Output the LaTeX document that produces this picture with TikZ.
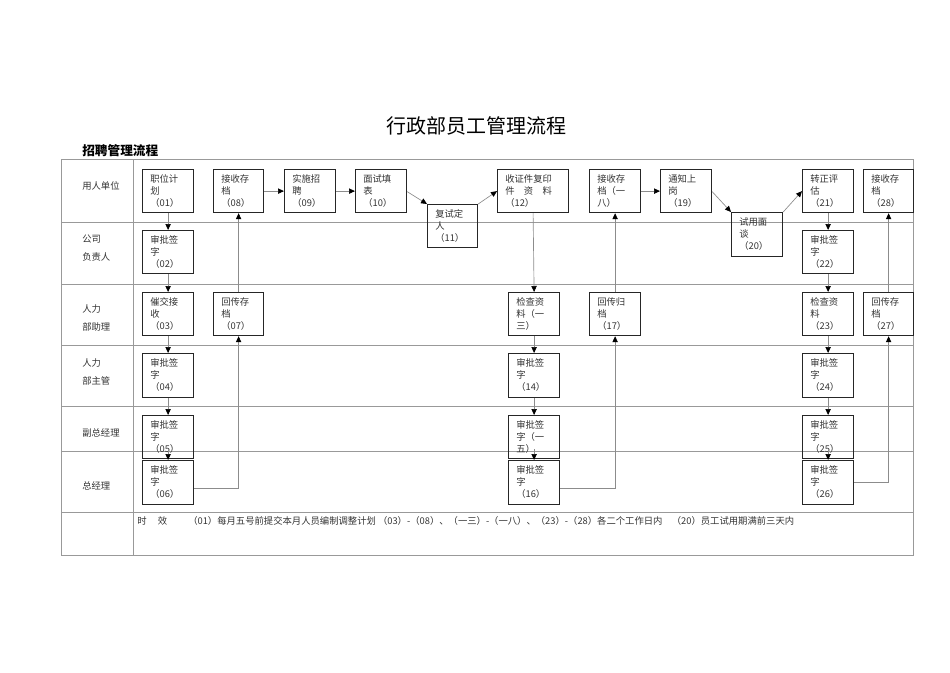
\documentclass[tikz,border=0pt]{standalone}
\usepackage{fontspec}
\newfontfamily\cjk{Noto Sans CJK SC}
\usetikzlibrary{arrows.meta}
\begin{document}
\begin{tikzpicture}[x=0.75pt,y=-0.75pt,
  grid/.style={draw=black!40,line width=0.5pt},
  bx/.style={draw=black!85,line width=0.9pt,anchor=north west,inner sep=0pt},
  btxt/.style={anchor=north west,align=left,inner sep=0pt,font=\cjk\fontsize{7}{9}\selectfont,text=black!80},
  lane/.style={anchor=west,align=left,inner sep=0pt,font=\cjk\fontsize{7}{13}\selectfont,text=black!80},
  conn/.style={draw=black!45,line width=0.5pt},
  arr/.style={conn,-{Triangle[length=4.5pt,width=4pt,fill=black,color=black]}}]
\useasboundingbox (0,0) rectangle (950,672);
\newcommand\mybox[6]{%
  \node[bx,minimum width={(#4-#2)*0.75pt},minimum height={(#5-#3)*0.75pt}] (#1) at (#2,#3) {};
  \node[btxt] at (#2+8,#3+5) {#6};}
% title
\node[font=\cjk\fontsize{15}{15}\selectfont] (title) at (476,126) {行政部员工管理流程};
\node[anchor=west,font=\cjk\bfseries\fontsize{9.5}{10}\selectfont,inner sep=0pt] (sub) at (82,151) {招聘管理流程};
% grid
\draw[grid] (61,159) rectangle (913,555);
\draw[grid] (133,159) -- (133,555);
\foreach \yy in {222,284,345,406,451,512} \draw[grid] (61,\yy) -- (913,\yy);
% lanes
\node[lane] (l1) at (82,186) {用人单位};
\node[lane] (l2) at (82,248) {公司\\负责人};
\node[lane] (l3) at (82,318) {人力\\部助理};
\node[lane] (l4) at (82,372) {人力\\部主管};
\node[lane] (l5) at (82,433) {副总经理};
\node[lane] (l6) at (82,486) {总经理};
% boxes row 1
\mybox{n01}{142}{169}{193}{212}{职位计\\划\\（01）}
\mybox{n08}{213}{169}{263}{212}{接收存\\档\\（08）}
\mybox{n09}{284}{169}{335}{212}{实施招\\聘\\（09）}
\mybox{n10}{355}{169}{406}{212}{面试填\\表\\（10）}
\mybox{n11}{427}{204}{477}{247}{复试定\\人\\（11）}
\mybox{n12}{497}{169}{568}{212}{收证件复印\\件　资　料\\（12）}
\mybox{n18}{589}{169}{640}{212}{接收存\\档（一\\八）}
\mybox{n19}{660}{169}{711}{212}{通知上\\岗\\（19）}
\mybox{n20}{731}{212}{782}{256}{试用面\\谈\\（20）}
\mybox{n21}{802}{169}{853}{212}{转正评\\估\\（21）}
\mybox{n28}{863}{169}{913}{212}{接收存\\档\\（28）}
% row 2
\mybox{n02}{142}{230}{193}{273}{审批签\\字\\（02）}
\mybox{n22}{802}{230}{853}{273}{审批签\\字\\（22）}
% row 3
\mybox{n03}{142}{292}{193}{335}{催交接\\收\\（03）}
\mybox{n07}{213}{292}{263}{335}{回传存\\档\\（07）}
\mybox{n13}{508}{292}{559}{335}{检查资\\料（一\\三）}
\mybox{n17}{589}{292}{640}{335}{回传归\\档\\（17）}
\mybox{n23}{802}{292}{853}{335}{检查资\\料\\（23）}
\mybox{n27}{863}{292}{913}{335}{回传存\\档\\（27）}
% rows 4-6
\mybox{n04}{142}{353}{193}{397}{审批签\\字\\（04）}
\mybox{n05}{142}{415}{193}{458}{审批签\\字\\（05）}
\mybox{n06}{142}{460}{193}{504}{审批签\\字\\（06）}
\mybox{n14}{508}{353}{559}{397}{审批签\\字\\（14）}
\mybox{n15}{508}{415}{559}{458}{审批签\\字（一\\五）}
\mybox{n16}{508}{460}{559}{504}{审批签\\字\\（16）}
\mybox{n24}{802}{353}{853}{397}{审批签\\字\\（24）}
\mybox{n25}{802}{415}{853}{458}{审批签\\字\\（25）}
\mybox{n26}{802}{460}{853}{504}{审批签\\字\\（26）}
% connectors
\foreach \a/\b in {n01/n02,n02/n03,n03/n04,n04/n05,n12/n13,n13/n14,n14/n15,n21/n22,n22/n23,n23/n24,n24/n25}
  \draw[arr] (\a.south) -- (\b.north);
\draw[arr] ([yshift=-9pt]n05.center) -- (n06.north);
\draw[arr] ([yshift=-9pt]n15.center) -- (n16.north);
\draw[arr] ([yshift=-9pt]n25.center) -- (n26.north);
\draw[arr] ([yshift=-4pt]n06.east) -| (n07.south);
\draw[arr] (n07.north) -- (n08.south);
\draw[arr] ([yshift=-4pt]n16.east) -| (n17.south);
\draw[arr] (n17.north) -- (n18.south);
\draw[arr] (n26.east) -| (n27.south);
\draw[arr] (n27.north) -- (n28.south);
\draw[arr] (n08.east) -- (n09.west);
\draw[arr] (n09.east) -- (n10.west);
\draw[arr] (n18.east) -- (n19.west);
\draw[arr] ([yshift=-17pt]n10.north east) -- (n11.north west);
\draw[arr] (n11.north east) -- (n12.west);
\draw[arr] ([yshift=-17pt]n19.north east) -- (n20.north west);
\draw[arr] (n20.north east) -- (n21.west);
% footer
\node[lane] (t1) at (137,521) {时\hspace{1.2em}效};
\node[lane] (t2) at (188,521) {（01）每月五号前提交本月人员编制调整计划 （03）-（08）、（一三）-（一八）、（23）-（28）各二个工作日内\hspace{1em}（20）员工试用期满前三天内};
\end{tikzpicture}
\end{document}
